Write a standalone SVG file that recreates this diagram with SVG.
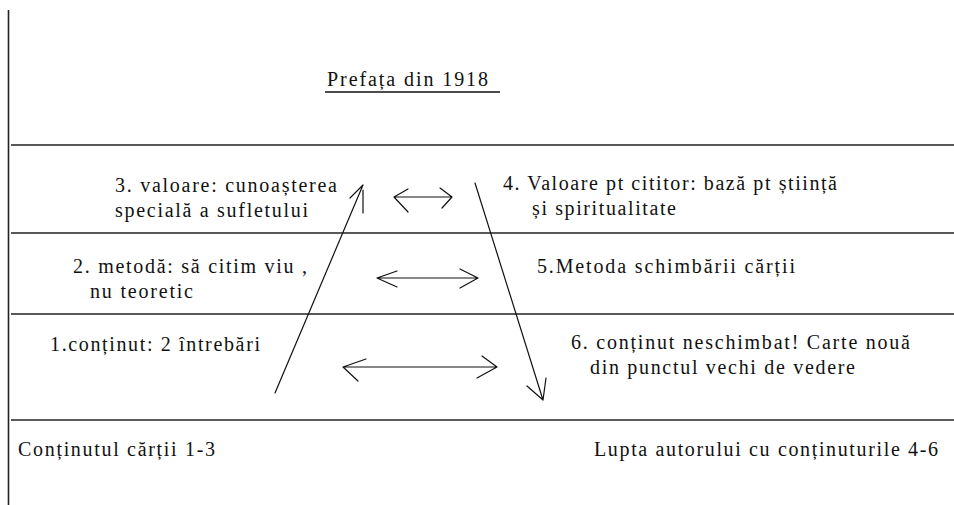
<svg xmlns="http://www.w3.org/2000/svg" width="954" height="505" viewBox="0 0 954 505">
<style>
.t{font-family:"Liberation Serif","Times New Roman",serif;font-size:20px;fill:#111}
.rule{stroke:#222;stroke-width:1.6;fill:none}
.c{stroke:#111;stroke-width:1.2;fill:none;stroke-linecap:round;stroke-linejoin:round}
</style>
<rect width="954" height="505" fill="#fff"/>
<g id="frame">
<line class="rule" x1="8.5" y1="10" x2="8.5" y2="505"/>
<line class="rule" x1="11" y1="145" x2="954" y2="145"/>
<line class="rule" x1="11" y1="233" x2="954" y2="233"/>
<line class="rule" x1="11" y1="314" x2="954" y2="314"/>
<line class="rule" x1="11" y1="420" x2="954" y2="420"/>
</g>
<g id="title">
<text class="t" x="327" y="86" textLength="161" lengthAdjust="spacing">Prefața din 1918</text>
<line x1="325" y1="92" x2="500" y2="92" stroke="#111" stroke-width="1.4"/>
</g>
<g id="node3">
<text class="t" x="115" y="192" textLength="222" lengthAdjust="spacing">3. valoare: cunoașterea</text>
<text class="t" x="115" y="217" textLength="193" lengthAdjust="spacing">specială a sufletului</text>
</g>
<g id="node2">
<text class="t" x="73" y="273" textLength="234" lengthAdjust="spacing">2. metodă: să citim viu ,</text>
<text class="t" x="90" y="298" textLength="103" lengthAdjust="spacing">nu teoretic</text>
</g>
<g id="node1">
<text class="t" x="50" y="351" textLength="210" lengthAdjust="spacing">1.conținut: 2 întrebări</text>
</g>
<g id="node4">
<text class="t" x="503" y="190" textLength="334" lengthAdjust="spacing">4. Valoare pt cititor: bază pt știință</text>
<text class="t" x="532" y="215" textLength="144" lengthAdjust="spacing">și spiritualitate</text>
</g>
<g id="node5">
<text class="t" x="537" y="273" textLength="258" lengthAdjust="spacing">5.Metoda schimbării cărții</text>
</g>
<g id="node6">
<text class="t" x="571" y="349" textLength="339" lengthAdjust="spacing">6. conținut neschimbat! Carte nouă</text>
<text class="t" x="590" y="374" textLength="265" lengthAdjust="spacing">din punctul vechi de vedere</text>
</g>
<g id="footer-left">
<text class="t" x="18" y="456" textLength="197" lengthAdjust="spacing">Conținutul cărții 1-3</text>
</g>
<g id="footer-right">
<text class="t" x="594" y="456" textLength="344" lengthAdjust="spacing">Lupta autorului cu conținuturile 4-6</text>
</g>
<g id="connectors">
<path class="c" d="M275,393 L363,185 M350,198 L363,185 M363,190 L363,213"/>
<path class="c" d="M475,183 L543,400 M527,386 L543,400 M546,378 L543,400"/>
<path class="c" d="M394,197 L452,197 M408,189 L394,197 L408,212 M440,188 L452,197 L442,208"/>
<path class="c" d="M377,278 L478,278 M397,271 L377,278 L397,287 M460,269 L478,278 L460,288"/>
<path class="c" d="M343,367 L497,367 M366,359 L343,367 L358,381 M482,356 L497,367 L477,378"/>
</g>
</svg>
